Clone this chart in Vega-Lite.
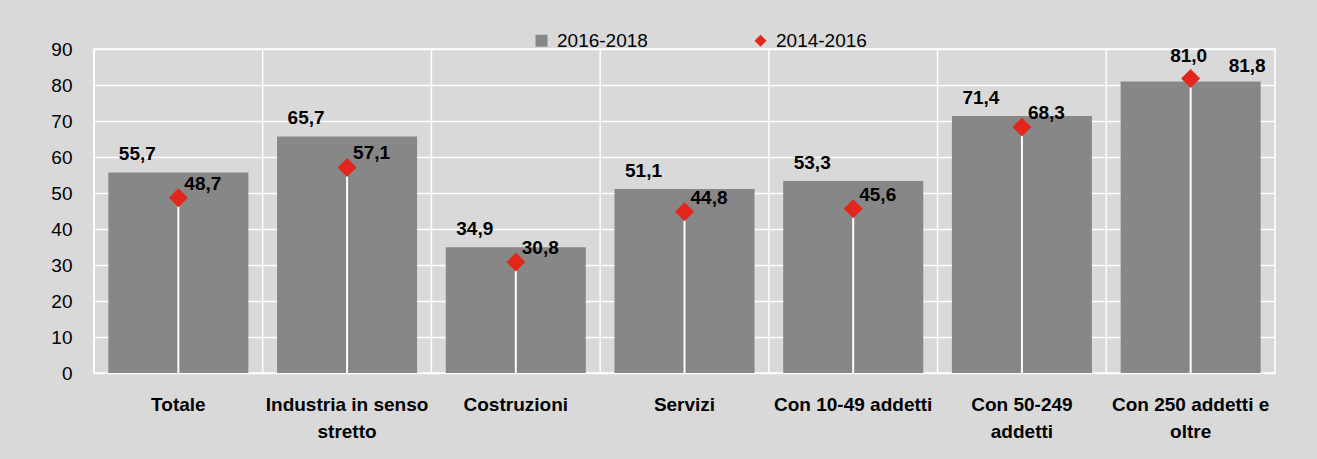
{
  "$schema": "https://vega.github.io/schema/vega-lite/v6.json",
  "width": 1181,
  "height": 324,
  "autosize": {"type": "none"},
  "padding": {"left": 94, "top": 49, "right": 42, "bottom": 86},
  "background": "#d9d9d9",
  "config": {
    "locale": {"number": {"decimal": ",", "thousands": ".", "grouping": [3], "currency": ["", " €"]}},
    "font": "Liberation Sans",
    "view": {"stroke": "#ffffff", "strokeWidth": 1.5, "fill": "#d9d9d9"},
    "axisY": {
      "title": null,
      "tickCount": 9,
      "labelOverlap": false,
      "domain": false,
      "ticks": false,
      "grid": true,
      "gridColor": "#ffffff",
      "gridWidth": 1.5,
      "gridOpacity": 1,
      "labelFont": "Liberation Sans",
      "labelFontSize": 19,
      "labelColor": "#000000",
      "labelPadding": 22
    }
  },
  "data": {
    "values": [
      {"categoria": "Totale", "periodo": "2016-2018", "valore": 55.7},
      {"categoria": "Industria in senso stretto", "periodo": "2016-2018", "valore": 65.7},
      {"categoria": "Costruzioni", "periodo": "2016-2018", "valore": 34.9},
      {"categoria": "Servizi", "periodo": "2016-2018", "valore": 51.1},
      {"categoria": "Con 10-49 addetti", "periodo": "2016-2018", "valore": 53.3},
      {"categoria": "Con 50-249 addetti", "periodo": "2016-2018", "valore": 71.4},
      {"categoria": "Con 250 addetti e oltre", "periodo": "2016-2018", "valore": 81.0},
      {"categoria": "Totale", "periodo": "2014-2016", "valore": 48.7},
      {"categoria": "Industria in senso stretto", "periodo": "2014-2016", "valore": 57.1},
      {"categoria": "Costruzioni", "periodo": "2014-2016", "valore": 30.8},
      {"categoria": "Servizi", "periodo": "2014-2016", "valore": 44.8},
      {"categoria": "Con 10-49 addetti", "periodo": "2014-2016", "valore": 45.6},
      {"categoria": "Con 50-249 addetti", "periodo": "2014-2016", "valore": 68.3},
      {"categoria": "Con 250 addetti e oltre", "periodo": "2014-2016", "valore": 81.8}
    ]
  },
  "encoding": {
    "x": {
      "field": "categoria",
      "type": "nominal",
      "sort": null,
      "scale": {"paddingInner": 0, "paddingOuter": 0},
      "axis": {
        "title": null,
        "domain": false,
        "ticks": false,
        "grid": false,
        "labelAngle": 0,
        "labelFont": "Liberation Sans",
        "labelFontSize": 19,
        "labelFontWeight": "bold",
        "labelColor": "#000000",
        "labelPadding": 22,
        "labelLineHeight": 27,
        "labelLimit": 0,
        "labelExpr": "datum.label == 'Industria in senso stretto' ? ['Industria in senso', 'stretto'] : datum.label == 'Con 50-249 addetti' ? ['Con 50-249', 'addetti'] : datum.label == 'Con 250 addetti e oltre' ? ['Con 250 addetti e', 'oltre'] : datum.label"
      }
    }
  },
  "layer": [
    {
      "transform": [{"filter": "datum.periodo == '2016-2018'"}],
      "mark": {"type": "rule", "color": "#ffffff", "strokeWidth": 1.5},
      "encoding": {
        "x": {"field": "categoria", "type": "nominal", "sort": null, "bandPosition": 0}
      }
    },
    {
      "transform": [{"filter": "datum.periodo == '2016-2018'"}],
      "mark": {"type": "bar", "width": {"band": 0.83}},
      "encoding": {
        "y": {
          "field": "valore",
          "type": "quantitative",
          "scale": {"domain": [0, 90], "nice": false}
        },
        "color": {
          "field": "periodo",
          "type": "nominal",
          "scale": {"domain": ["2016-2018", "2014-2016"], "range": ["#878787", "#e3261c"]},
          "legend": {
            "title": null,
            "orient": "none",
            "direction": "horizontal",
            "legendX": 438,
            "legendY": -18,
            "labelFont": "Liberation Sans",
            "labelFontSize": 19,
            "labelColor": "#000000",
            "labelOffset": 6,
            "symbolSize": 144,
            "symbolStrokeWidth": 0,
            "columnPadding": 103
          }
        }
      }
    },
    {
      "transform": [{"filter": "datum.periodo == '2014-2016'"}],
      "mark": {"type": "rule", "color": "#ffffff", "strokeWidth": 2},
      "encoding": {
        "y": {"field": "valore", "type": "quantitative"},
        "y2": {"datum": 0}
      }
    },
    {
      "transform": [{"filter": "datum.periodo == '2014-2016'"}],
      "mark": {"type": "point", "filled": true, "size": 360, "opacity": 1},
      "encoding": {
        "y": {"field": "valore", "type": "quantitative"},
        "color": {"field": "periodo", "type": "nominal"},
        "shape": {
          "field": "periodo",
          "type": "nominal",
          "scale": {"domain": ["2016-2018", "2014-2016"], "range": ["square", "diamond"]}
        }
      }
    },
    {
      "transform": [{"filter": "datum.periodo == '2016-2018' && datum.categoria != 'Con 250 addetti e oltre'"}],
      "mark": {"type": "text", "font": "Liberation Sans", "fontSize": 19, "fontWeight": "bold", "color": "#000000", "dx": -41, "dy": -12, "baseline": "alphabetic", "align": "center"},
      "encoding": {
        "y": {"field": "valore", "type": "quantitative"},
        "text": {"field": "valore", "type": "quantitative", "format": ".1f"}
      }
    },
    {
      "transform": [{"filter": "datum.periodo == '2016-2018' && datum.categoria == 'Con 250 addetti e oltre'"}],
      "mark": {"type": "text", "font": "Liberation Sans", "fontSize": 19, "fontWeight": "bold", "color": "#000000", "dx": -2, "dy": -19, "baseline": "alphabetic", "align": "center"},
      "encoding": {
        "y": {"field": "valore", "type": "quantitative"},
        "text": {"field": "valore", "type": "quantitative", "format": ".1f"}
      }
    },
    {
      "transform": [{"filter": "datum.periodo == '2014-2016' && datum.categoria != 'Con 250 addetti e oltre'"}],
      "mark": {"type": "text", "font": "Liberation Sans", "fontSize": 19, "fontWeight": "bold", "color": "#000000", "dx": 6, "dy": -8, "baseline": "alphabetic", "align": "left"},
      "encoding": {
        "y": {"field": "valore", "type": "quantitative"},
        "text": {"field": "valore", "type": "quantitative", "format": ".1f"}
      }
    },
    {
      "transform": [{"filter": "datum.periodo == '2014-2016' && datum.categoria == 'Con 250 addetti e oltre'"}],
      "mark": {"type": "text", "font": "Liberation Sans", "fontSize": 19, "fontWeight": "bold", "color": "#000000", "dx": 38, "dy": -7, "baseline": "alphabetic", "align": "left"},
      "encoding": {
        "y": {"field": "valore", "type": "quantitative"},
        "text": {"field": "valore", "type": "quantitative", "format": ".1f"}
      }
    }
  ]
}
